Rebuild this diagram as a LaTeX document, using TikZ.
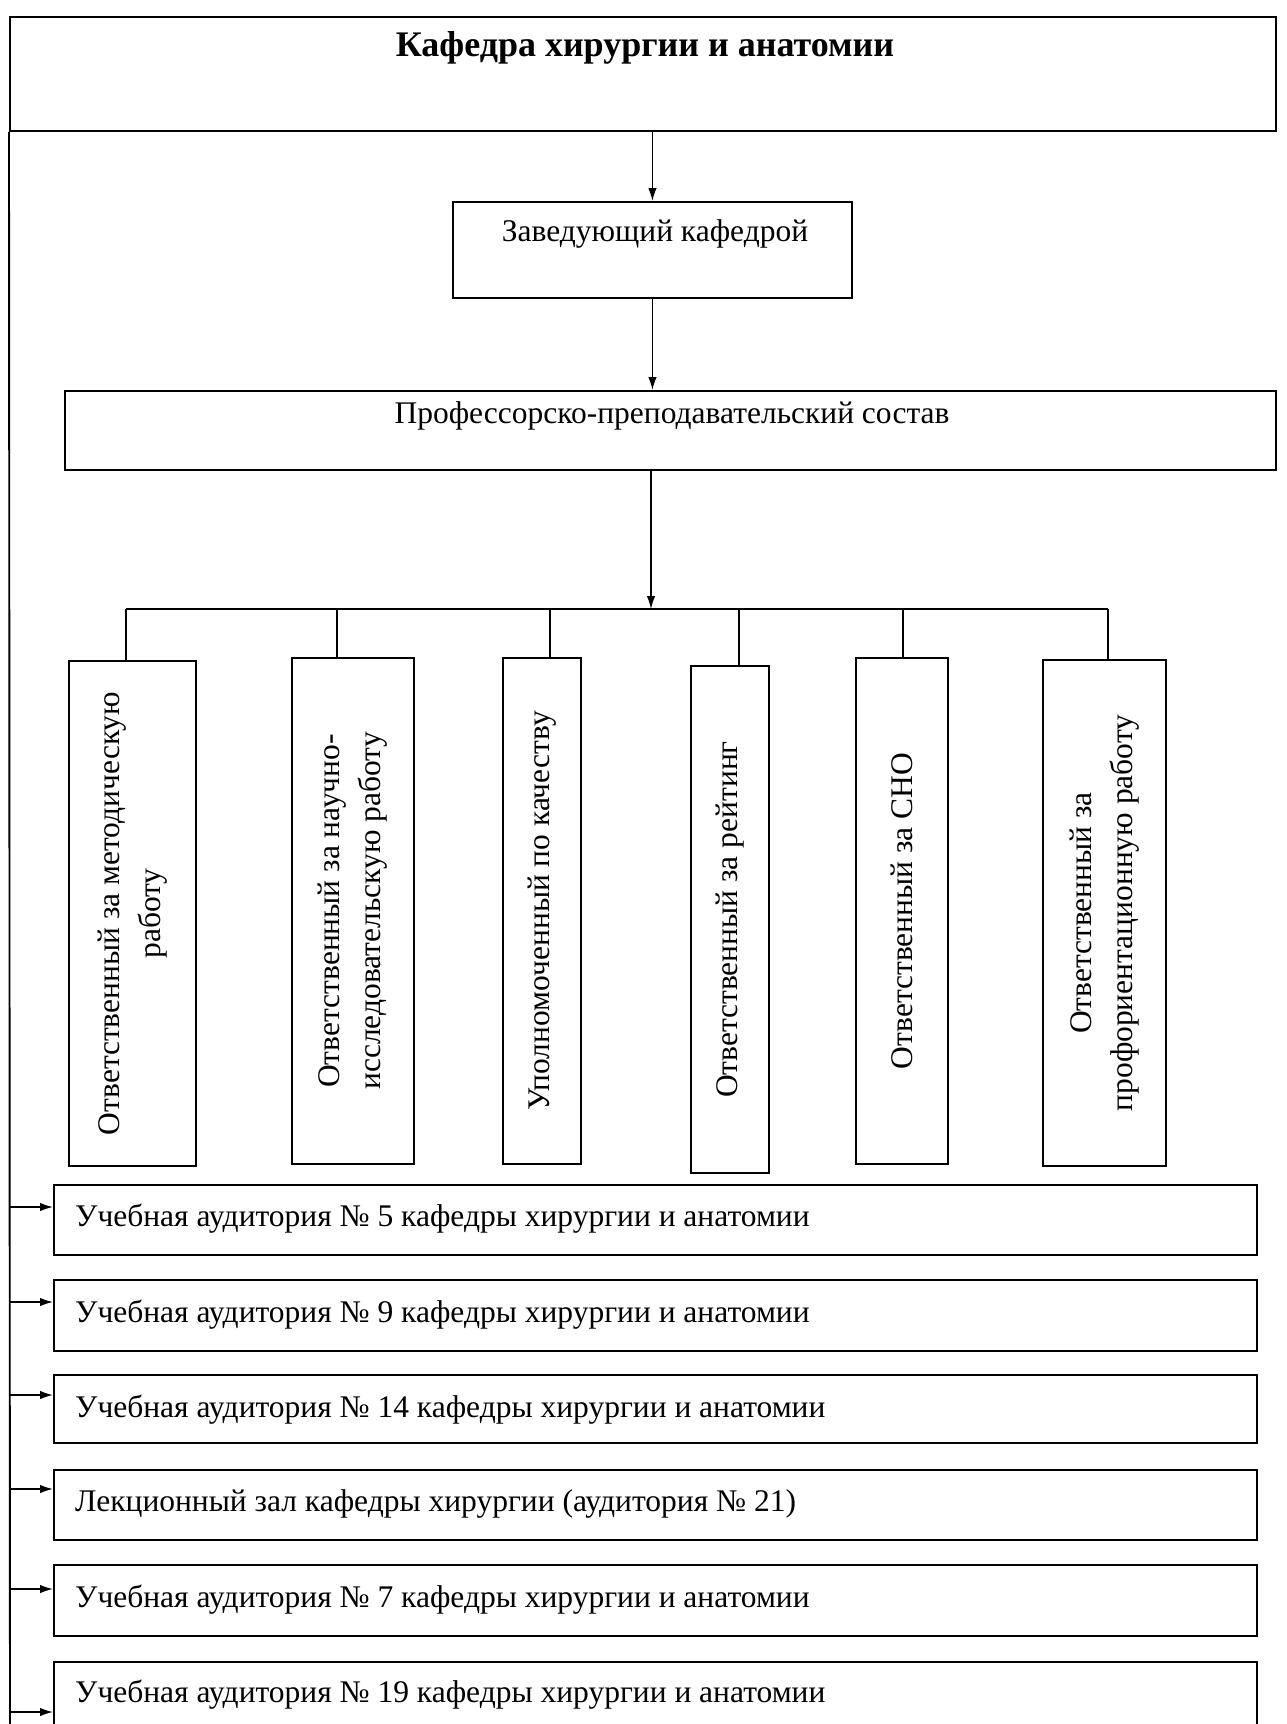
\documentclass[tikz,border=0pt]{standalone}
\usepackage{fontspec}
\setmainfont{Liberation Serif}
\usetikzlibrary{arrows.meta,calc}
\begin{document}
\begin{tikzpicture}[x=1pt,y=-1pt,
  box/.style={draw, line width=1.9pt, inner sep=0pt, anchor=north west},
  conn/.style={line width=1.4pt},
  arr/.style={conn, -{Latex[length=13pt,width=8.5pt]}},
  txt/.style={font=\fontsize{31.5}{41}\selectfont, inner sep=0pt},
  vtxt/.style={txt, rotate=90, align=center},
  htxt/.style={txt, anchor=mid west},
]
\useasboundingbox (0,0) rectangle (1286,1724);
\clip (0,0) rectangle (1286,1724);

% top boxes
\node[box, minimum width=1266pt, minimum height=114pt] (top) at (9,16) {};
\node[inner sep=0pt, font=\fontsize{36}{40}\selectfont\bfseries] (ttl) at (645,48) {Кафедра хирургии и анатомии};
\node[box, minimum width=399pt, minimum height=96pt] (zav) at (452,201) {};
\node[txt] (zavt) at (655,234) {Заведующий кафедрой};
\node[box, minimum width=1211pt, minimum height=79pt] (prof) at (64,390) {};
\node[txt] (proft) at (672,416) {Профессорско-преподавательский состав};

\draw[arr] (top.south -| zav) -- (zav.north);
\draw[arr] (zav.south) -- (zav.south |- prof.north);

% bus
\coordinate (bc) at (651,609);
\draw[arr] (prof.south -| bc) -- (bc);
\coordinate (d1) at (126,609);
\coordinate (d2) at (337,609);
\coordinate (d3) at (550,609);
\coordinate (d4) at (739,609);
\coordinate (d5) at (903,609);
\coordinate (d6) at (1108,609);
\draw[conn] (d1) -- (d6);

% vertical boxes
\node[box, minimum width=127pt, minimum height=505pt] (v1) at (68,660) {};
\node[box, minimum width=122pt, minimum height=506pt] (v2) at (291,657) {};
\node[box, minimum width=78pt, minimum height=506pt] (v3) at (502,657) {};
\node[box, minimum width=78pt, minimum height=507pt] (v4) at (690,665) {};
\node[box, minimum width=92pt, minimum height=506pt] (v5) at (855,657) {};
\node[box, minimum width=123pt, minimum height=506pt] (v6) at (1042,659) {};

\node[vtxt] (t1) at (v1.center) {Ответственный за методическую\\работу};
\node[vtxt] (t2) at (v2.center) {Ответственный за научно-\\исследовательскую работу};
\node[vtxt] (t3) at (v3.center) {Уполномоченный по качеству};
\node[vtxt] (t4) at (v4.center) {Ответственный за рейтинг};
\node[vtxt] (t5) at (v5.center) {Ответственный за СНО};
\node[vtxt] (t6) at (v6.center) {Ответственный за\\профориентационную работу};

\foreach \i in {1,...,6} {
  \draw[conn] (d\i) -- (d\i |- v\i.north);
}

% horizontal boxes
\node[box, minimum width=1203pt, minimum height=70pt] (h1) at (53,1184) {};
\node[box, minimum width=1203pt, minimum height=71pt] (h2) at (53,1279) {};
\node[box, minimum width=1203pt, minimum height=68pt] (h3) at (53,1374) {};
\node[box, minimum width=1203pt, minimum height=70pt] (h4) at (53,1469) {};
\node[box, minimum width=1203pt, minimum height=71pt] (h5) at (53,1564) {};
\node[box, minimum width=1203pt, minimum height=80pt] (h6) at (53,1661) {};

\node[htxt] (ht1) at (75,1224) {Учебная аудитория № 5 кафедры хирургии и анатомии};
\node[htxt] (ht2) at (75,1320) {Учебная аудитория № 9 кафедры хирургии и анатомии};
\node[htxt] (ht3) at (75,1415) {Учебная аудитория № 14 кафедры хирургии и анатомии};
\node[htxt] (ht4) at (75,1509) {Лекционный зал кафедры хирургии (аудитория № 21)};
\node[htxt] (ht5) at (75,1605) {Учебная аудитория № 7 кафедры хирургии и анатомии};
\node[htxt] (ht6) at (75,1700) {Учебная аудитория № 19 кафедры хирургии и анатомии};

% left trunk
\coordinate (lb) at (10,1724);
\draw[line width=1.9pt] (top.south west) -- (lb);
\coordinate (a1) at (10,1207);
\coordinate (a2) at (10,1302);
\coordinate (a3) at (10,1395);
\coordinate (a4) at (10,1489);
\coordinate (a5) at (10,1589);
\coordinate (a6) at (10,1712);
\foreach \i in {1,...,6} {
  \draw[arr] (a\i) -- (a\i -| h\i.west);
}
\end{tikzpicture}
\end{document}
